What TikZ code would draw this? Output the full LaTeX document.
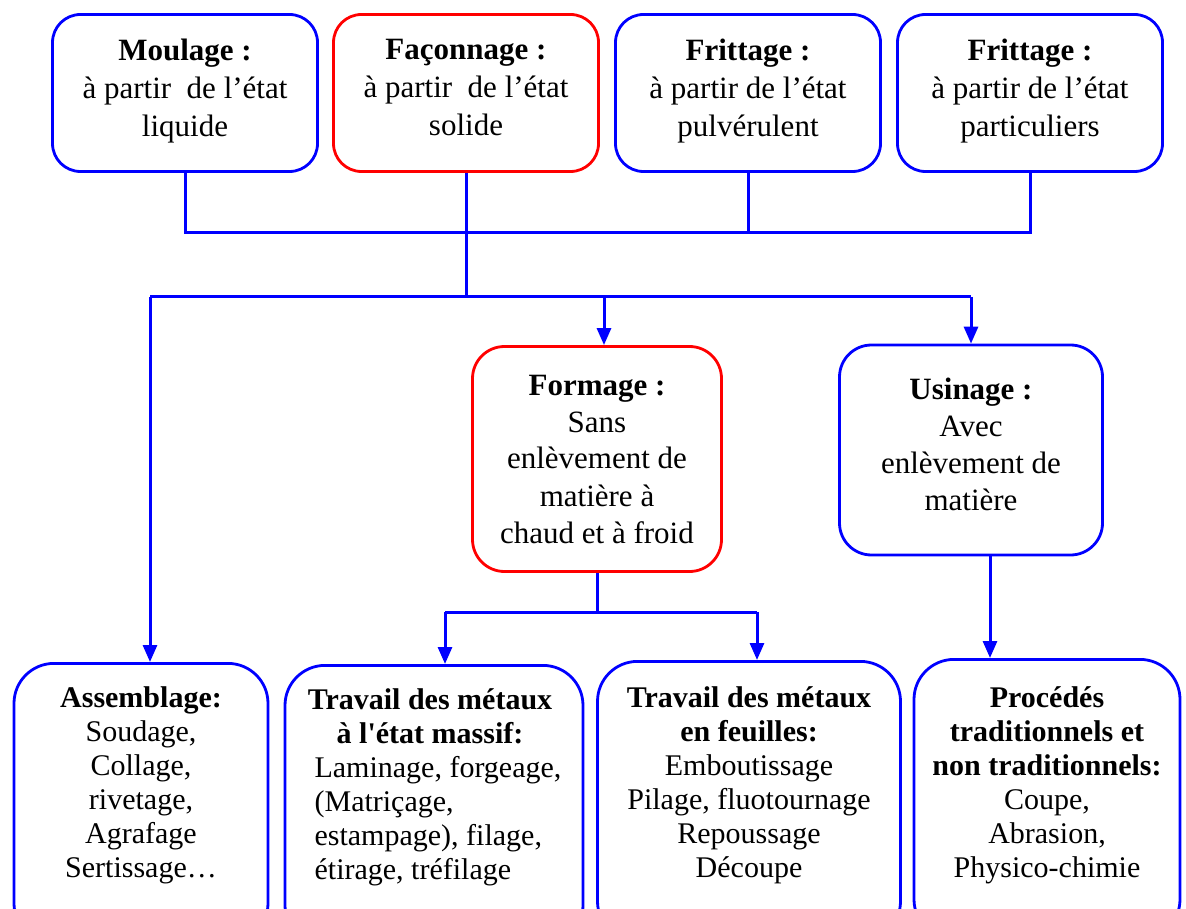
\documentclass[tikz,border=0pt]{standalone}
\usepackage{fontspec}
\setmainfont{Liberation Serif}
\usepackage{tikz}
\usetikzlibrary{shapes, arrows.meta, positioning}

\begin{document}
\begin{tikzpicture}[x=1pt, y=-1pt,
                        box/.style={rectangle, draw=blue, line width=2.8pt, align=center, inner sep=0pt},
                        topbox/.style={box, rounded corners=28pt, minimum width=265pt, minimum height=157pt,
                                       font=\fontsize{31}{38}\selectfont},
                        midbox/.style={box, rounded corners=32pt, font=\fontsize{31}{37}\selectfont},
                        lowbox/.style={box, rounded corners=40pt, minimum height=280pt, anchor=north},
                        lowtext/.style={align=center, inner sep=0pt, font=\fontsize{30}{34}\selectfont},
                        connector/.style={draw=blue, line width=3pt},
                        arrow/.style={connector, -{Triangle[length=17pt, width=14pt]}}
                        ]
  \useasboundingbox (0,0) rectangle (1186,909);
  \clip (0,0) rectangle (1186,909);

  % top row
  \node[topbox] (moulage) at (185,93) {\textbf{Moulage :}\\à partir\ \ de l’état\\liquide\strut};
  \node[topbox, draw=red] (faconnage) at (466,93) {\textbf{Façonnage :}\\à partir\ \ de l’état\\solide\strut};
  \node[topbox] (frittageA) at (748,93) {\textbf{Frittage :}\\à partir de l’état\\pulvérulent\strut};
  \node[topbox] (frittageB) at (1030,93) {\textbf{Frittage :}\\à partir de l’état\\particuliers\strut};

  % middle row
  \node[midbox, draw=red, minimum width=249pt, minimum height=225pt] (formage) at (597,459)
    {\textbf{Formage :}\\Sans\\enlèvement de\\matière à\\chaud et à froid};
  \node[midbox, minimum width=263pt, minimum height=210pt] (usinage) at (971,450)
    {\textbf{Usinage :}\\Avec\\enlèvement de\\matière\strut};

  % bottom row
  \node[lowbox, minimum width=254pt] (assemblage) at (141,662) {};
  \node[lowbox, minimum width=298pt] (massif) at (434,664) {};
  \node[lowbox, minimum width=303pt] (feuilles) at (749,660) {};
  \node[lowbox, minimum width=266pt] (procedes) at (1047,658) {};

  \node[lowtext, below=24pt of assemblage.north] (assemblagetxt)
    {\textbf{Assemblage:}\\Soudage,\\Collage,\\rivetage,\\Agrafage\\Sertissage…};
  \node[lowtext, below=24pt of massif.north, xshift=-4pt] (massiftxt)
    {\textbf{Travail des métaux}\\\textbf{à l\textquotesingle état massif:}\\
     \hspace*{16pt}\begin{tabular}[t]{@{}l@{}}Laminage, forgeage,\\ (Matriçage,\\estampage), filage,\\étirage, tréfilage\end{tabular}};
  \node[lowtext, below=26pt of feuilles.north] (feuillestxt)
    {\textbf{Travail des métaux}\\\textbf{en feuilles:}\\Emboutissage\\Pilage, fluotournage\\Repoussage\\Découpe};
  \node[lowtext, below=28pt of procedes.north] (procedestxt)
    {\textbf{Procédés}\\\textbf{traditionnels et}\\\textbf{non traditionnels:}\\Coupe,\\Abrasion,\\Physico-chimie};

  % junctions
  \coordinate (bus1) at (466,233);
  \coordinate (left2) at (150,297);
  \coordinate (mid2) at (604,297);
  \coordinate (right2) at (971,297);
  \coordinate (left3) at (445,612);
  \coordinate (right3) at (757,612);

  \draw[connector] (moulage.south) -- (moulage.south |- bus1) -- (frittageB.south |- bus1) -- (frittageB.south);
  \draw[connector] (frittageA.south) -- (frittageA.south |- bus1);
  \draw[connector] (faconnage.south) -- (faconnage.south |- left2);
  \draw[connector] (left2) -- (right2);
  \draw[arrow] (left2) -- (left2 |- assemblage.north);
  \draw[arrow] (mid2) -- (mid2 |- formage.north);
  \draw[arrow] (right2) -- (usinage.north);

  \draw[connector] (formage.south) -- (formage.south |- left3);
  \draw[connector] (left3) -- (right3);
  \draw[arrow] (left3) -- (left3 |- massif.north);
  \draw[arrow] (right3) -- (right3 |- feuilles.north);
  \draw[arrow] ([xshift=19pt]usinage.south) -- ([xshift=19pt]usinage.south |- procedes.north);
\end{tikzpicture}
\end{document}
